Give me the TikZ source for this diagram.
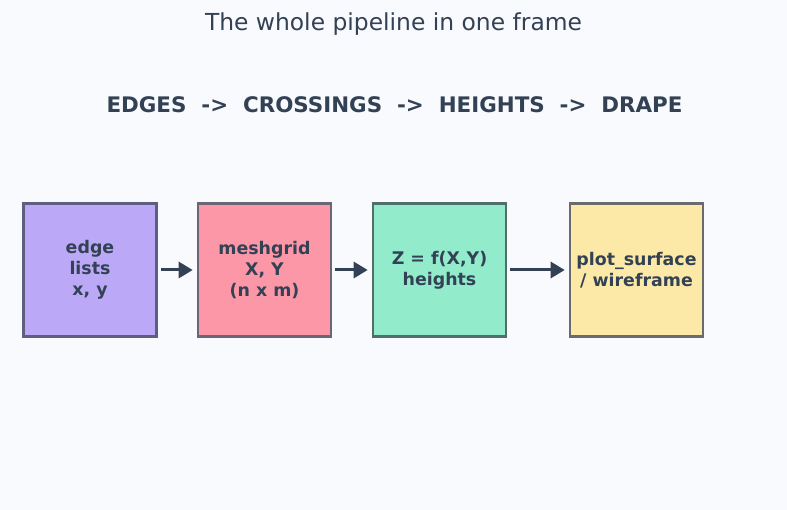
\documentclass[tikz,border=0pt]{standalone}
\usepackage{fontspec}
\setmainfont{DejaVu Sans}
\usetikzlibrary{arrows.meta}
\definecolor{bgcol}{HTML}{F9FAFD}
\definecolor{ink}{HTML}{334155}
\definecolor{edgefill}{HTML}{BBA9F8}
\definecolor{meshfill}{HTML}{FB97A7}
\definecolor{heightfill}{HTML}{92EBCB}
\definecolor{drapefill}{HTML}{FDE9A7}
\definecolor{edgeline}{HTML}{5E5E80}
\definecolor{meshline}{HTML}{6B6575}
\definecolor{heightline}{HTML}{4F6E6C}
\definecolor{drapeline}{HTML}{6B6B6B}
\tikzset{
  stage/.style={draw, line width=2.6pt, minimum width=133pt, minimum height=133pt,
    align=center, text=ink, font=\bfseries\fontsize{17.4}{21}\selectfont},
  flow/.style={draw=ink, line width=3pt, -{Triangle[length=14pt,width=16pt]},
    shorten <=3pt, shorten >=4pt}
}
\begin{document}
\begin{tikzpicture}[x=1pt,y=-1pt]
\fill[bgcol] (0,0) rectangle (787,510);
\useasboundingbox (0,0) rectangle (787,510);
\node[text=ink, font=\fontsize{23.4}{28}\selectfont] (title) at (393.5,24){The whole pipeline in one frame};
\node[text=ink, font=\bfseries\fontsize{21.4}{25}\selectfont] (steps) at (394.5,105){EDGES\ \ ->\ \ CROSSINGS\ \ ->\ \ HEIGHTS\ \ ->\ \ DRAPE};
\node[stage, fill=edgefill, draw=edgeline] (edges) at (90,270){edge\\lists\\x, y};
\node[stage, fill=meshfill, draw=meshline] (mesh) at (264.5,270){meshgrid\\X, Y\\(n x m)};
\node[stage, fill=heightfill, draw=heightline] (heights) at (439.5,270){Z = f(X,Y)\\heights};
\node[stage, fill=drapefill, draw=drapeline] (drape) at (636.5,270){plot\_surface\\/ wireframe};
\draw[flow] (edges) -- (mesh);
\draw[flow] (mesh) -- (heights);
\draw[flow] (heights) -- (drape);
\end{tikzpicture}
\end{document}
